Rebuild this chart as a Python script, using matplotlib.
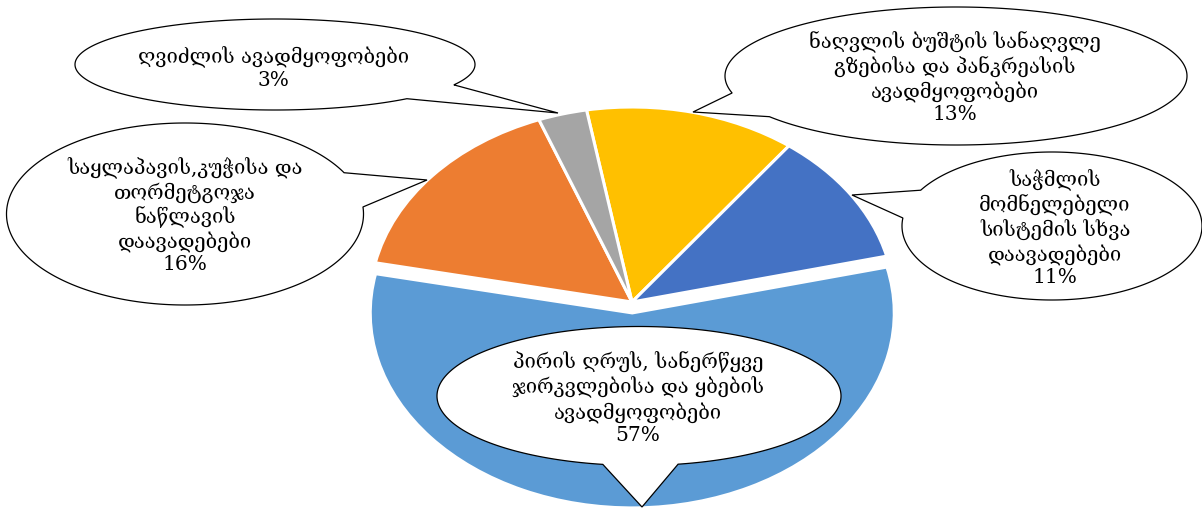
import numpy as np
import matplotlib
matplotlib.use("Agg")
import matplotlib.pyplot as plt
from matplotlib.patches import Polygon

# Disease groups of the digestive system, share of cases (%)
categories = [
    "ნაღვლის ბუშტის სანაღვლე\nგზებისა და პანკრეასის\nავადმყოფობები",
    "საჭმლის\nმომნელებელი\nსისტემის სხვა\nდაავადებები",
    "პირის ღრუს, სანერწყვე\nჯირკვლებისა და ყბების\nავადმყოფობები",
    "საყლაპავის,კუჭისა და\nთორმეტგოჯა\nნაწლავის\nდაავადებები",
    "ღვიძლის ავადმყოფობები",
]
values = [13, 11, 57, 16, 3]
colors = ["#FFC000", "#4472C4", "#5B9BD5", "#ED7D31", "#A5A5A5"]
explode = [0, 0, 0.056, 0, 0]

W, H = 1202, 508
fig = plt.figure(figsize=(W / 100, H / 100), dpi=100)
fig.patch.set_facecolor("white")

# Pie axes: unit circle stretched into a flattened ellipse
cx_px, cy_px = 632, 302
rx_px, ry_px = 262, 195
ax = fig.add_axes([0, 0, 1, 1])
ax.pie(values, colors=colors, startangle=100, counterclock=False,
       explode=explode, radius=1.0,
       wedgeprops=dict(edgecolor="white", linewidth=2.2))
ax.set_aspect("auto")
ax.set_xlim(-cx_px / rx_px, (W - cx_px) / rx_px)
ax.set_ylim(-(H - cy_px) / ry_px, cy_px / ry_px)
ax.axis("off")

# Overlay axes in pixel units for the callout bubbles
ov = fig.add_axes([0, 0, 1, 1])
ov.set_xlim(0, W)
ov.set_ylim(H, 0)
ov.axis("off")
ov.patch.set_alpha(0)

FONT = ["DejaVu Serif", "DejaVu Sans"]


def bubble(cx, cy, w, h, base1, base2, tip):
    a, b = w / 2, h / 2
    two_pi = 2 * np.pi

    def ang(p):
        return np.arctan2((p[1] - cy) / b, (p[0] - cx) / a) % two_pi

    t1, t2, tp = ang(base1), ang(base2), ang(tip)
    d = (t2 - t1) % two_pi
    if (tp - t1) % two_pi < d:
        ts = np.linspace(t2, t2 + (two_pi - d), 400)
    else:
        ts = np.linspace(t1, t1 + d, 400)
    pts = np.column_stack([cx + a * np.cos(ts), cy + b * np.sin(ts)])
    pts = np.vstack([pts, tip])
    ov.add_patch(Polygon(pts, closed=True, facecolor="white",
                         edgecolor="black", linewidth=0.9, zorder=3))


# bubble geometry: center, size, tail base points, tail tip, text center
layout = [
    dict(c=(956, 76), s=(462, 138), b1=(732, 93), b2=(768, 117), tip=(693, 112), t=(955, 78)),
    dict(c=(1052, 226), s=(300, 148), b1=(920, 190), b2=(903, 218), tip=(852, 195), t=(1055, 228)),
    dict(c=(639, 396), s=(404, 139), b1=(603, 464), b2=(678, 464), tip=(642, 507), t=(638, 398)),
    dict(c=(185, 214), s=(357, 182), b1=(343, 173), b2=(362, 207), tip=(427, 180), t=(185, 216)),
    dict(c=(275, 64.5), s=(400, 91), b1=(455, 85), b2=(408, 99), tip=(558, 113), t=(273, 68)),
]

for name, val, lay in zip(categories, values, layout):
    bubble(lay["c"][0], lay["c"][1], lay["s"][0], lay["s"][1],
           lay["b1"], lay["b2"], lay["tip"])
    ov.text(lay["t"][0], lay["t"][1], f"{name}\n{val}%", ha="center",
            va="center", fontsize=14.5, family=FONT, linespacing=1.2,
            color="black", zorder=4, multialignment="center")

fig.savefig("out.png", dpi=100, facecolor="white")
